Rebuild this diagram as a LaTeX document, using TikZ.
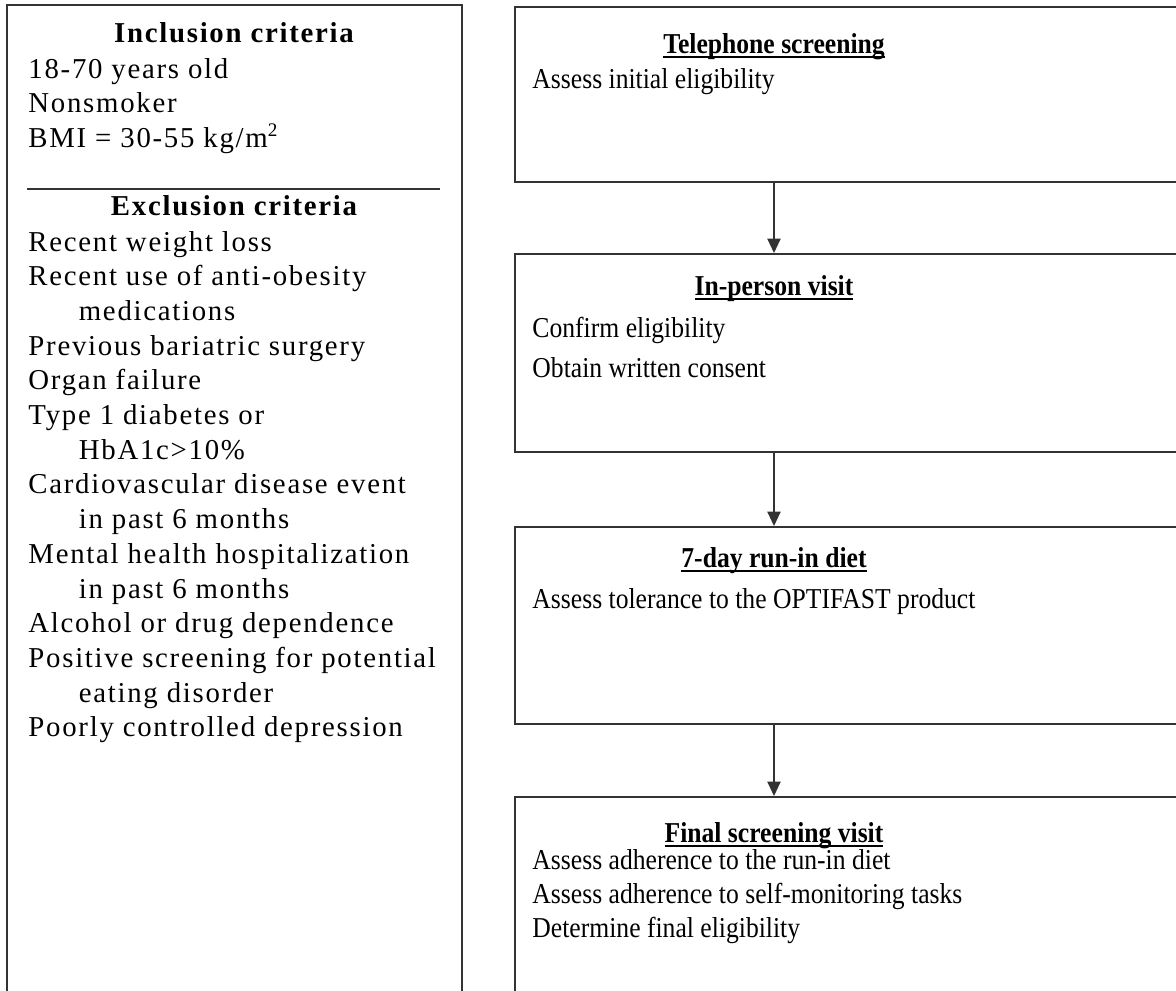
\documentclass[tikz,border=0pt]{standalone}
\usepackage{fontspec}
\setmainfont{Liberation Serif}
\newfontfamily\critfont[LetterSpace=6]{Liberation Serif}
\newfontfamily\stepfont[FakeStretch=0.89]{Liberation Serif}
\usetikzlibrary{arrows.meta, positioning, fit}
\definecolor{inkline}{HTML}{333333}
\newsavebox\ulbox
\newcommand{\ulbold}[1]{\sbox\ulbox{#1}\rlap{\rule[-2.2pt]{\wd\ulbox}{1pt}}\usebox\ulbox}
\newcommand{\stagebox}[3]{%
  \node[draw=inkline, line width=0.8pt, inner sep=0pt,
        fit={(515,#2) (1190,#3)}] (#1) {};}
\tikzset{
  crithead/.style={anchor=base, inner sep=0pt,
    font=\critfont\fontsize{12}{14.5}\selectfont\bfseries},
  critline/.style={anchor=base west, inner sep=0pt,
    font=\critfont\fontsize{12}{14.5}\selectfont},
  stagetitle/.style={anchor=base, inner sep=0pt,
    font=\stepfont\fontsize{12}{14.5}\selectfont\bfseries},
  stageline/.style={anchor=base west, inner sep=0pt,
    font=\stepfont\fontsize{12}{14.5}\selectfont},
  flow/.style={-{Triangle[width=5.5pt,length=6pt]}, draw=inkline, line width=0.6pt}
}

\begin{document}
\begin{tikzpicture}[x=0.41667pt, y=-0.41667pt]
  \useasboundingbox (0,0) rectangle (1176,991);
  \clip (0,0) rectangle (1176,991);

  % criteria panel
  \node[draw=inkline, line width=0.9pt, inner sep=0pt,
        fit={(7,5) (462,1010)}] (crit) {};
  \node[crithead] (incT) at (234,42) {Inclusion criteria};
  \foreach \txt [count=\i from 0] in {18-70 years old, Nonsmoker,
      BMI = 30-55 kg/m\textsuperscript{2}}
    \node[critline] (inc\i) at (28,78+34.5*\i) {\txt};
  \draw[inkline, line width=0.6pt] (27,189) -- (440,189);
  \node[crithead] (excT) at (234,215) {Exclusion criteria};
  \foreach \txt [count=\i from 0] in {Recent weight loss,
      Recent use of anti-obesity, \hspace*{21pt}medications,
      Previous bariatric surgery, Organ failure, Type 1 diabetes or,
      \hspace*{21pt}HbA1c>10\%, Cardiovascular disease event,
      \hspace*{21pt}in past 6 months, Mental health hospitalization,
      \hspace*{21pt}in past 6 months, Alcohol or drug dependence,
      Positive screening for potential, \hspace*{21pt}eating disorder,
      Poorly controlled depression}
    \node[critline] (exc\i) at (28,251+34.7*\i) {\txt};

  % screening stages
  \stagebox{tel}{7}{182}
  \node[stagetitle] (telT) at (774,53) {\ulbold{Telephone screening}};
  \node[stageline] (tel1) at (532,88) {Assess initial eligibility};

  \stagebox{visit}{254}{452}
  \node[stagetitle] (visitT) at (774,295) {\ulbold{In-person visit}};
  \node[stageline] (visit1) at (532,337) {Confirm eligibility};
  \node[stageline] (visit2) at (532,377) {Obtain written consent};

  \stagebox{runin}{527}{724}
  \node[stagetitle] (runinT) at (774,567) {\ulbold{7-day run-in diet}};
  \node[stageline] (runin1) at (532,608) {Assess tolerance to the OPTIFAST product};

  \stagebox{final}{797}{1010}
  \node[stagetitle] (finalT) at (774,842) {\ulbold{Final screening visit}};
  \node[stageline] (final1) at (532,869) {Assess adherence to the run-in diet};
  \node[stageline] (final2) at (532,903) {Assess adherence to self-monitoring tasks};
  \node[stageline] (final3) at (532,937) {Determine final eligibility};

  \draw[flow] (tel.south -| telT) -- (visit.north -| telT);
  \draw[flow] (visit.south -| visitT) -- (runin.north -| visitT);
  \draw[flow] (runin.south -| runinT) -- (final.north -| runinT);
\end{tikzpicture}
\end{document}
